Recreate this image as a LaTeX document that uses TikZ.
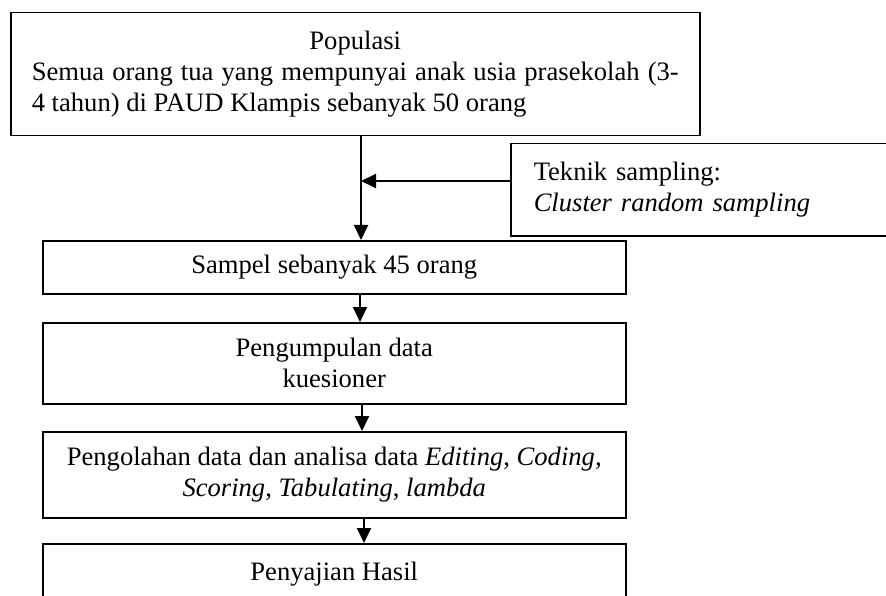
\documentclass[tikz,border=0pt]{standalone}
\usepackage{fontspec}
\setmainfont{Liberation Serif}
\usetikzlibrary{arrows.meta}
\begin{document}
\begin{tikzpicture}[x=1pt,y=-1pt,
  box/.style={draw, line width=1.5pt, inner sep=0pt, font=\fontsize{26.6}{31}\selectfont},
  arr/.style={line width=2pt, -{Triangle[width=14pt,length=15pt]}}]
\clip (0,0) rectangle (886,596);
\fill[white] (0,0) rectangle (886,596);

% top box: population (second line set justified)
\node[box, anchor=north west, minimum width=689pt, minimum height=123pt,
      align=left] (pop) at (10,12)
  {\makebox[647pt]{Populasi}\\\makebox[647pt][s]{Semua orang tua yang mempunyai anak usia prasekolah (3-}\\4 tahun) di PAUD Klampis sebanyak 50 orang};

% sampling technique (runs off the right edge)
\node[box, anchor=north west, minimum width=490pt, minimum height=92pt,
      inner xsep=23pt, text width=444pt, align=left] (tek) at (510,143)
  {Teknik sampling:\\\textit{Cluster random sampling}};

% main column
\node[box, anchor=north west, minimum width=583pt, minimum height=53pt] (samp) at (42,240)
  {Sampel sebanyak 45 orang};
\node[box, anchor=north west, minimum width=583pt, minimum height=81pt, align=center] (kump) at (42,322)
  {Pengumpulan data\\ kuesioner};
\node[box, anchor=north west, minimum width=583pt, minimum height=86pt, align=center] (olah) at (42,431)
  {Pengolahan data dan analisa data \textit{Editing}, \textit{Coding,}\\\textit{Scoring, Tabulating}, \textit{lambda}};
\node[box, anchor=north west, minimum width=583pt, minimum height=60pt] (saji) at (42,543)
  {Penyajian Hasil};

% connectors
\coordinate (j) at (361,181);
\draw[arr] (pop.south -| j) -- (samp.north -| j);
\draw[arr] (tek.west |- j) -- (j);
\coordinate (c1) at (360,0);
\coordinate (c2) at (362,0);
\coordinate (c3) at (364,0);
\draw[arr] (samp.south -| c1) -- (kump.north -| c1);
\draw[arr] (kump.south -| c2) -- (olah.north -| c2);
\draw[arr] (olah.south -| c3) -- (saji.north -| c3);
\end{tikzpicture}
\end{document}
